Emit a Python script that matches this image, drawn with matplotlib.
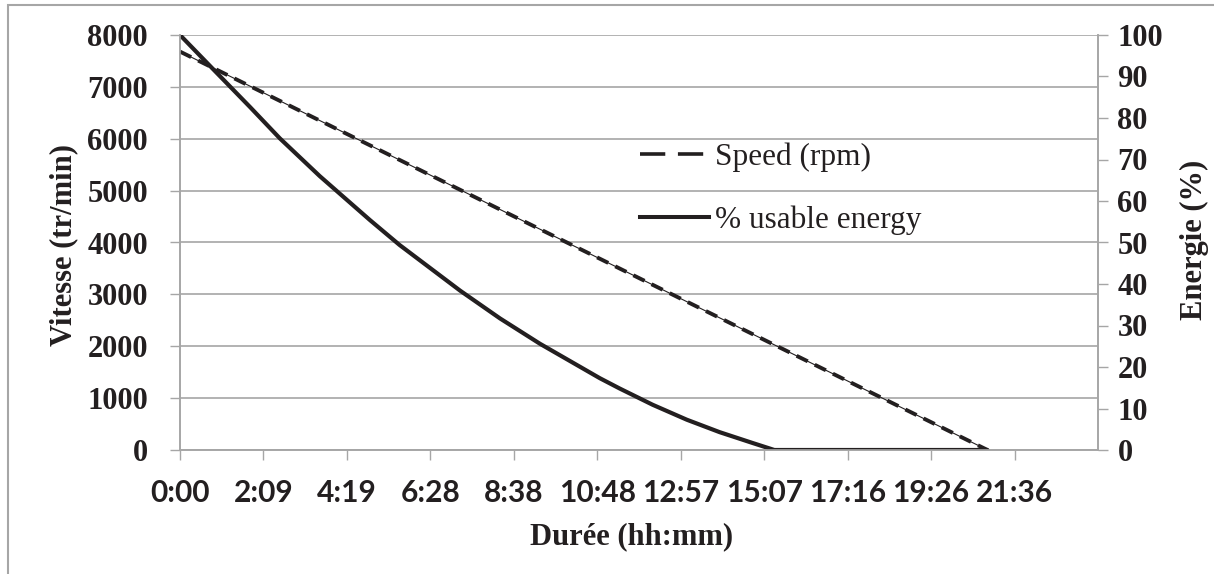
"""Vitesse / énergie utile d'un volant d'inertie en fonction de la durée."""
import matplotlib
matplotlib.use("Agg")
import matplotlib.pyplot as plt
from matplotlib.lines import Line2D
from matplotlib.patches import Rectangle

INK = "#231F20"
GREY = "#A6A6A6"
SERIF = "Liberation Serif"

# durée en minutes
SPEED_T = [0, 1254]
SPEED_RPM = [7680, 0]

ENERGY_T = [0, 50, 109, 155, 217, 295, 341, 435, 497, 559, 652, 683, 734,
            787, 838, 889, 923, 1254]
ENERGY_PCT = [100, 92, 82.6, 75.1, 66, 55.4, 49.4, 38.4, 31.7, 25.6, 17.3,
              14.8, 10.9, 7.3, 4.3, 1.7, 0, 0]

STEP = 129.6  # 0.09 jour
XTICK_LABELS = ["0:00", "2:09", "4:19", "6:28", "8:38", "10:48", "12:57",
                "15:07", "17:16", "19:26", "21:36"]

W, H = 1214, 574
fig = plt.figure(figsize=(W / 100, H / 100), dpi=100)
fig.patches.append(Rectangle((8 / W, -0.1), 1.2, 1 - 5 / H + 0.1,
                             transform=fig.transFigure, fill=False,
                             edgecolor=GREY, lw=1.5))

L, R, T, B = 180, 1098, 35, 450
ax = fig.add_axes([L / W, 1 - B / H, (R - L) / W, (B - T) / H])
ax2 = ax.twinx()

# courbes
ax.plot(SPEED_T, SPEED_RPM, color=INK, lw=0.8, zorder=3)
ax.plot(SPEED_T, SPEED_RPM, color=INK, lw=2.8, dashes=(3.2, 2.0), zorder=3)
ax2.plot(ENERGY_T, ENERGY_PCT, color=INK, lw=3.0, solid_capstyle="round",
         solid_joinstyle="round")

ax.set_xlim(0, 11 * STEP)
ax.set_ylim(0, 8000)
ax2.set_ylim(0, 100)
ax.set_xticks([k * STEP for k in range(len(XTICK_LABELS))])
ax.set_xticklabels(XTICK_LABELS, family="Lato", fontweight="bold",
                   fontsize=21.5, color=INK)
ax.set_yticks(range(0, 8001, 1000))
ax.set_yticklabels([str(v) for v in range(0, 8001, 1000)], family=SERIF,
                   fontweight="bold", fontsize=22, color=INK)
ax2.set_yticks(range(0, 101, 10))
ax2.set_yticklabels([str(v) for v in range(0, 101, 10)], family=SERIF,
                    fontweight="bold", fontsize=22, color=INK)

ax.grid(axis="y", color=GREY, lw=1.2)
ax.set_axisbelow(True)
for a in (ax, ax2):
    a.spines["top"].set_visible(False)
    for s in ("left", "right", "bottom"):
        a.spines[s].set_color(GREY)
        a.spines[s].set_linewidth(1.2)
ax.tick_params(axis="y", length=7, width=1, color=GREY, pad=16)
ax.tick_params(axis="x", length=7, width=1, color=GREY, pad=14)
ax2.tick_params(axis="y", length=7, width=1, color=GREY, pad=7)

fig.text(64 / W, 1 - 245 / H, "Vitesse (tr/min)", rotation=90, ha="center",
         va="center", family=SERIF, fontweight="bold", fontsize=22, color=INK)
fig.text(1194 / W, 1 - 240 / H, "Energie (%)", rotation=90, ha="center",
         va="center", family=SERIF, fontweight="bold", fontsize=22, color=INK)
fig.text(632 / W, 1 - 537 / H, "Durée (hh:mm)", ha="center", va="center",
         family=SERIF, fontweight="bold", fontsize=22, color=INK)

handles = [Line2D([], [], color=INK, lw=2.6, dashes=(7, 3.5)),
           Line2D([], [], color=INK, lw=2.9)]
ax2.legend(handles, ["Speed (rpm)", "% usable energy"], loc="upper left",
           bbox_to_anchor=((640 - L) / (R - L), 1 - (142 - T) / (B - T)),
           frameon=False, borderpad=0, borderaxespad=0, handlelength=2.2,
           handletextpad=0.2, labelspacing=1.1,
           prop={"family": SERIF, "size": 22.5}, labelcolor=INK)

fig.savefig("out.png", dpi=100)
